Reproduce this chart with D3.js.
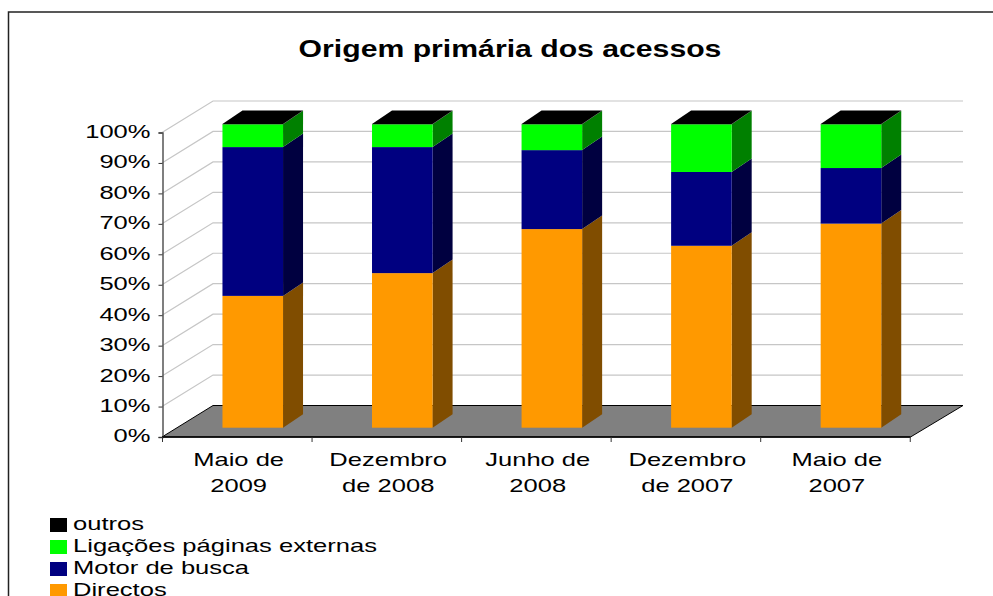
<!DOCTYPE html>
<html>
<head>
  <title>Origem primaria dos acessos</title>
  <script src="https://cdnjs.cloudflare.com/ajax/libs/d3/7.8.5/d3.min.js"></script>
  <style>
    html, body { margin: 0; padding: 0; background: #fff; overflow: hidden; }
    svg { display: block; }
    text { font-family: "Liberation Sans", Arial, sans-serif; fill: #000; }
  </style>
</head>
<body>
  <div id="chart-area"></div>
  <script>
    const categories = ["Maio de 2009", "Dezembro de 2008", "Junho de 2008", "Dezembro de 2007", "Maio de 2007"];
    const categoryLines = [["Maio de", "2009"], ["Dezembro", "de 2008"], ["Junho de", "2008"], ["Dezembro", "de 2007"], ["Maio de", "2007"]];
    const seriesNames = ["Directos", "Motor de busca", "Ligações páginas externas", "outros"];
    const directos = [43.4, 50.9, 65.4, 59.9, 67.2];
    const motor = [49.0, 41.5, 26.0, 24.3, 18.3];
    const ligacoes = [7.5, 7.5, 8.5, 15.7, 14.4];
    const outros = [0.1, 0.1, 0.1, 0.1, 0.1];
    const yTicks = [0, 10, 20, 30, 40, 50, 60, 70, 80, 90, 100];
    const frontColors = ["#ff9900", "#000080", "#00ff00", "#000000"];
    const sideColors = ["#804d00", "#000040", "#008000", "#000000"];

    const width = 993, height = 596;
    const stretch = 1.38;   // the original picture is wider than tall

    const svg = d3.select("#chart-area").append("svg")
      .attr("width", width)
      .attr("height", height);

    const table = categories.map((c, i) => ({
      category: c,
      "Directos": directos[i],
      "Motor de busca": motor[i],
      "Ligações páginas externas": ligacoes[i],
      "outros": outros[i]
    }));
    const stacked = d3.stack().keys(seriesNames)(table);

    // frame
    svg.append("path")
      .attr("d", "M8.5,596V12H993")
      .attr("fill", "none")
      .attr("stroke", "#222")
      .attr("stroke-width", 1.5);

    svg.append("g").attr("transform", "translate(510,57) scale(1.285,1)")
      .append("text")
      .attr("text-anchor", "middle")
      .attr("font-size", 23.5)
      .attr("font-weight", "bold")
      .text("Origem primária dos acessos");

    const x = d3.scaleBand().domain(categories).range([162, 910.5]).paddingInner(0.595).paddingOuter(0.3);
    const y = d3.scaleLinear().domain([0, 100]).range([437, 132.5]);
    const barY = d3.scaleLinear().domain([0, 100]).range([427.7, 124]);

    // wall depth, floor depth, depth of a bar, bar offset from front edge
    const wallDx = 51, wallDy = -31.5;
    const barDx = 20, barDy = -13.5;
    const barShift = 15.6;

    // gridlines on the side and back walls
    const grid = svg.append("g").attr("fill", "none").attr("stroke", "#c6c6c6").attr("stroke-width", 1.2);
    grid.selectAll("path").data(yTicks.filter(d => d > 0)).join("path")
      .attr("d", d => `M162,${y(d)}L${162 + wallDx},${y(d) + wallDy}H963`);

    // floor
    svg.append("path")
      .attr("d", `M162,${y(0)}L${162 + wallDx},${y(0) + wallDy}H963L910.5,${y(0)}Z`)
      .attr("fill", "#808080")
      .attr("stroke", "#000")
      .attr("stroke-width", 1);

    // bars, drawn bottom up
    const layers = svg.selectAll("g.layer").data(stacked).join("g").attr("class", "layer");
    layers.each(function(s, si) {
      const g = d3.select(this);
      const bw = x.bandwidth();
      g.selectAll("path.side").data(s).join("path")
        .attr("class", "side")
        .attr("fill", sideColors[si])
        .attr("d", d => {
          const x1 = x(d.data.category) + barShift + bw;
          return `M${x1},${barY(d[0])}V${barY(d[1])}l${barDx},${barDy}V${barY(d[0]) + barDy}Z`;
        });
      g.selectAll("rect").data(s).join("rect")
        .attr("x", d => x(d.data.category) + barShift)
        .attr("y", d => barY(d[1]))
        .attr("width", bw)
        .attr("height", d => barY(d[0]) - barY(d[1]))
        .attr("fill", frontColors[si]);
    });

    // black cap on top of each bar
    svg.append("g").selectAll("path").data(stacked[stacked.length - 1]).join("path")
      .attr("fill", "#000")
      .attr("d", d => {
        const x0 = x(d.data.category) + barShift;
        return `M${x0},${barY(d[1])}l${barDx},${barDy}h${x.bandwidth()}l${-barDx},${-barDy}Z`;
      });

    // y axis
    const yAxis = svg.append("g")
      .attr("transform", "translate(162.5,0)")
      .call(d3.axisLeft(y).tickValues(yTicks).tickFormat(d => d + "%").tickSize(4).tickPadding(5));
    yAxis.select(".domain").attr("stroke", "#555").attr("stroke-width", 1.5);
    yAxis.selectAll(".tick line").attr("stroke", "#333");
    yAxis.selectAll(".tick text")
      .attr("font-family", null)
      .attr("font-size", 18.5)
      .attr("transform", `scale(${stretch},1)`)
      .attr("x", -12 / stretch)
      .attr("y", -1);

    // x axis
    const xAxis = svg.append("g")
      .attr("transform", `translate(0,${y(0)})`);
    xAxis.append("path").attr("d", "M162,0H910.5").attr("stroke", "#000").attr("stroke-width", 1.5);
    const step = x.step();
    xAxis.selectAll("line").data(d3.range(categories.length + 1)).join("line")
      .attr("x1", d => 162 + d * step + 0.5)
      .attr("x2", d => 162 + d * step + 0.5)
      .attr("y1", 0).attr("y2", 5)
      .attr("stroke", "#333");
    const xLabels = xAxis.selectAll("g.label").data(categories).join("g")
      .attr("class", "label")
      .attr("transform", d => `translate(${x(d) + x.bandwidth() / 2 + 1.5},0) scale(${stretch},1)`);
    xLabels.each(function(d, i) {
      d3.select(this).selectAll("text").data(categoryLines[i]).join("text")
        .attr("text-anchor", "middle")
        .attr("font-size", 18.5)
        .attr("y", (t, j) => 29 + j * 26.5)
        .text(t => t);
    });

    // legend
    const legendItems = seriesNames.slice().reverse();
    const legendColors = frontColors.slice().reverse();
    const legend = svg.append("g").selectAll("g").data(legendItems).join("g")
      .attr("transform", (d, i) => `translate(50,${518 + i * 22})`);
    legend.append("rect").attr("width", 17).attr("height", 14)
      .attr("fill", (d, i) => legendColors[i]);
    legend.append("g").attr("transform", "translate(23,11.5) scale(1.42,1)")
      .append("text").attr("font-size", 18).text(d => d);
  </script>
</body>
</html>
